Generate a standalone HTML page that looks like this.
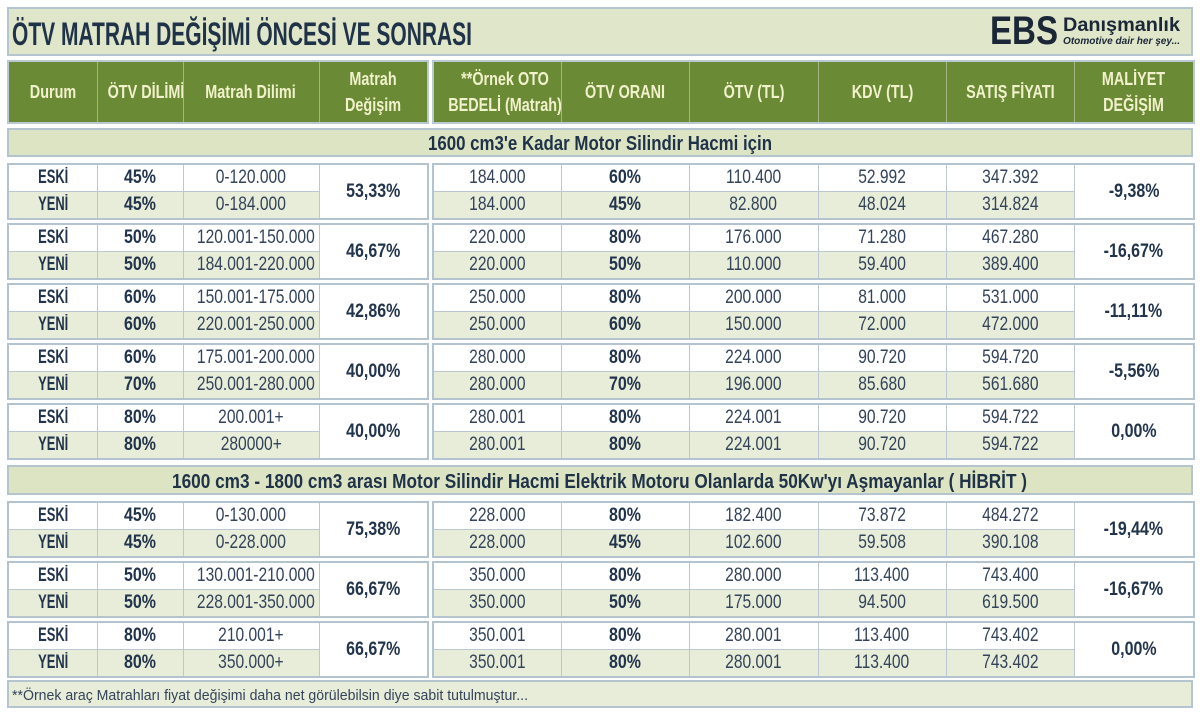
<!DOCTYPE html>
<html><head><meta charset="utf-8">
<style>
html,body{margin:0;padding:0}
body{width:1200px;height:716px;background:#fff;position:relative;overflow:hidden;font-family:"Liberation Sans",sans-serif;color:#24364e}
.bar{position:absolute;box-sizing:border-box;border:2px solid #b5c5d0}
svg{position:absolute;left:0;top:0}
table{position:absolute;border-collapse:collapse;table-layout:fixed;border:2px solid #b3c3cf}
td{border:1px solid #bcc8d1;padding:0;text-align:center;vertical-align:middle;font-size:19px;white-space:nowrap;overflow:hidden;background:#fff;line-height:20px}
tr.y td{background:#e8edd9}
tr.y td.m,td.m{background:#fff}
b,i{display:inline-block;font-style:normal}
b{font-weight:bold;transform:scaleX(.84);color:#22344c}
b.k{transform:scaleX(.68)}
i{transform:scaleX(.82);color:#33435a}
table.hd{border:2px solid #b9c8d2}
table.hd td{background:#6b8a35;border:1px solid #a3b684;font-size:18px;line-height:26px}
table.hd b{color:#f1f1cc;transform:scaleX(.8)}
</style></head><body>

<div class="bar" style="left:7px;top:7px;width:1186px;height:49px;background:#dfe6c9"></div>
<div class="bar" style="left:7px;top:128px;width:1186px;height:29px;background:#dce4c4"></div>
<div class="bar" style="left:7px;top:465px;width:1186px;height:30px;background:#dce4c4"></div>
<div class="bar" style="left:7px;top:680px;width:1186px;height:28px;background:#e8edda"></div>

<table class="hd" style="left:7px;top:60px;width:420px;height:64px">
<colgroup><col style="width:89px"><col style="width:86px"><col style="width:136px"><col style="width:109px"></colgroup>
<tr><td><b>Durum</b></td><td><b>ÖTV DİLİMİ</b></td><td><b>Matrah Dilimi</b></td><td><b>Matrah<br>Değişim</b></td></tr></table>
<table class="hd" style="left:432px;top:60px;width:761px;height:64px">
<colgroup><col style="width:128px"><col style="width:128px"><col style="width:129px"><col style="width:128px"><col style="width:128px"><col style="width:120px"></colgroup>
<tr><td><b>**Örnek OTO<br>BEDELİ (Matrah)</b></td><td><b>ÖTV ORANI</b></td><td><b>ÖTV (TL)</b></td><td><b>KDV (TL)</b></td><td><b>SATIŞ FİYATI</b></td><td><b>MALİYET<br>DEĞİŞİM</b></td></tr></table>

<!-- Group 1 -->
<table style="left:7px;top:163px;width:420px;height:57px">
<colgroup><col style="width:89px"><col style="width:86px"><col style="width:136px"><col style="width:109px"></colgroup>
<tr><td><b class="k">ESKİ</b></td><td><b>45%</b></td><td><i>0-120.000</i></td><td class="m" rowspan="2"><b>53,33%</b></td></tr>
<tr class="y"><td><b class="k">YENİ</b></td><td><b>45%</b></td><td><i>0-184.000</i></td></tr></table>
<table style="left:432px;top:163px;width:761px;height:57px">
<colgroup><col style="width:128px"><col style="width:128px"><col style="width:129px"><col style="width:128px"><col style="width:128px"><col style="width:120px"></colgroup>
<tr><td><i>184.000</i></td><td><b>60%</b></td><td><i>110.400</i></td><td><i>52.992</i></td><td><i>347.392</i></td><td class="m" rowspan="2"><b>-9,38%</b></td></tr>
<tr class="y"><td><i>184.000</i></td><td><b>45%</b></td><td><i>82.800</i></td><td><i>48.024</i></td><td><i>314.824</i></td></tr></table>

<!-- Group 2 -->
<table style="left:7px;top:223px;width:420px;height:57px">
<colgroup><col style="width:89px"><col style="width:86px"><col style="width:136px"><col style="width:109px"></colgroup>
<tr><td><b class="k">ESKİ</b></td><td><b>50%</b></td><td><i>120.001-150.000</i></td><td class="m" rowspan="2"><b>46,67%</b></td></tr>
<tr class="y"><td><b class="k">YENİ</b></td><td><b>50%</b></td><td><i>184.001-220.000</i></td></tr></table>
<table style="left:432px;top:223px;width:761px;height:57px">
<colgroup><col style="width:128px"><col style="width:128px"><col style="width:129px"><col style="width:128px"><col style="width:128px"><col style="width:120px"></colgroup>
<tr><td><i>220.000</i></td><td><b>80%</b></td><td><i>176.000</i></td><td><i>71.280</i></td><td><i>467.280</i></td><td class="m" rowspan="2"><b>-16,67%</b></td></tr>
<tr class="y"><td><i>220.000</i></td><td><b>50%</b></td><td><i>110.000</i></td><td><i>59.400</i></td><td><i>389.400</i></td></tr></table>

<!-- Group 3 -->
<table style="left:7px;top:283px;width:420px;height:57px">
<colgroup><col style="width:89px"><col style="width:86px"><col style="width:136px"><col style="width:109px"></colgroup>
<tr><td><b class="k">ESKİ</b></td><td><b>60%</b></td><td><i>150.001-175.000</i></td><td class="m" rowspan="2"><b>42,86%</b></td></tr>
<tr class="y"><td><b class="k">YENİ</b></td><td><b>60%</b></td><td><i>220.001-250.000</i></td></tr></table>
<table style="left:432px;top:283px;width:761px;height:57px">
<colgroup><col style="width:128px"><col style="width:128px"><col style="width:129px"><col style="width:128px"><col style="width:128px"><col style="width:120px"></colgroup>
<tr><td><i>250.000</i></td><td><b>80%</b></td><td><i>200.000</i></td><td><i>81.000</i></td><td><i>531.000</i></td><td class="m" rowspan="2"><b>-11,11%</b></td></tr>
<tr class="y"><td><i>250.000</i></td><td><b>60%</b></td><td><i>150.000</i></td><td><i>72.000</i></td><td><i>472.000</i></td></tr></table>

<!-- Group 4 -->
<table style="left:7px;top:343px;width:420px;height:57px">
<colgroup><col style="width:89px"><col style="width:86px"><col style="width:136px"><col style="width:109px"></colgroup>
<tr><td><b class="k">ESKİ</b></td><td><b>60%</b></td><td><i>175.001-200.000</i></td><td class="m" rowspan="2"><b>40,00%</b></td></tr>
<tr class="y"><td><b class="k">YENİ</b></td><td><b>70%</b></td><td><i>250.001-280.000</i></td></tr></table>
<table style="left:432px;top:343px;width:761px;height:57px">
<colgroup><col style="width:128px"><col style="width:128px"><col style="width:129px"><col style="width:128px"><col style="width:128px"><col style="width:120px"></colgroup>
<tr><td><i>280.000</i></td><td><b>80%</b></td><td><i>224.000</i></td><td><i>90.720</i></td><td><i>594.720</i></td><td class="m" rowspan="2"><b>-5,56%</b></td></tr>
<tr class="y"><td><i>280.000</i></td><td><b>70%</b></td><td><i>196.000</i></td><td><i>85.680</i></td><td><i>561.680</i></td></tr></table>

<!-- Group 5 -->
<table style="left:7px;top:403px;width:420px;height:57px">
<colgroup><col style="width:89px"><col style="width:86px"><col style="width:136px"><col style="width:109px"></colgroup>
<tr><td><b class="k">ESKİ</b></td><td><b>80%</b></td><td><i>200.001+</i></td><td class="m" rowspan="2"><b>40,00%</b></td></tr>
<tr class="y"><td><b class="k">YENİ</b></td><td><b>80%</b></td><td><i>280000+</i></td></tr></table>
<table style="left:432px;top:403px;width:761px;height:57px">
<colgroup><col style="width:128px"><col style="width:128px"><col style="width:129px"><col style="width:128px"><col style="width:128px"><col style="width:120px"></colgroup>
<tr><td><i>280.001</i></td><td><b>80%</b></td><td><i>224.001</i></td><td><i>90.720</i></td><td><i>594.722</i></td><td class="m" rowspan="2"><b>0,00%</b></td></tr>
<tr class="y"><td><i>280.001</i></td><td><b>80%</b></td><td><i>224.001</i></td><td><i>90.720</i></td><td><i>594.722</i></td></tr></table>

<!-- Group 6 -->
<table style="left:7px;top:501px;width:420px;height:57px">
<colgroup><col style="width:89px"><col style="width:86px"><col style="width:136px"><col style="width:109px"></colgroup>
<tr><td><b class="k">ESKİ</b></td><td><b>45%</b></td><td><i>0-130.000</i></td><td class="m" rowspan="2"><b>75,38%</b></td></tr>
<tr class="y"><td><b class="k">YENİ</b></td><td><b>45%</b></td><td><i>0-228.000</i></td></tr></table>
<table style="left:432px;top:501px;width:761px;height:57px">
<colgroup><col style="width:128px"><col style="width:128px"><col style="width:129px"><col style="width:128px"><col style="width:128px"><col style="width:120px"></colgroup>
<tr><td><i>228.000</i></td><td><b>80%</b></td><td><i>182.400</i></td><td><i>73.872</i></td><td><i>484.272</i></td><td class="m" rowspan="2"><b>-19,44%</b></td></tr>
<tr class="y"><td><i>228.000</i></td><td><b>45%</b></td><td><i>102.600</i></td><td><i>59.508</i></td><td><i>390.108</i></td></tr></table>

<!-- Group 7 -->
<table style="left:7px;top:561px;width:420px;height:57px">
<colgroup><col style="width:89px"><col style="width:86px"><col style="width:136px"><col style="width:109px"></colgroup>
<tr><td><b class="k">ESKİ</b></td><td><b>50%</b></td><td><i>130.001-210.000</i></td><td class="m" rowspan="2"><b>66,67%</b></td></tr>
<tr class="y"><td><b class="k">YENİ</b></td><td><b>50%</b></td><td><i>228.001-350.000</i></td></tr></table>
<table style="left:432px;top:561px;width:761px;height:57px">
<colgroup><col style="width:128px"><col style="width:128px"><col style="width:129px"><col style="width:128px"><col style="width:128px"><col style="width:120px"></colgroup>
<tr><td><i>350.000</i></td><td><b>80%</b></td><td><i>280.000</i></td><td><i>113.400</i></td><td><i>743.400</i></td><td class="m" rowspan="2"><b>-16,67%</b></td></tr>
<tr class="y"><td><i>350.000</i></td><td><b>50%</b></td><td><i>175.000</i></td><td><i>94.500</i></td><td><i>619.500</i></td></tr></table>

<!-- Group 8 -->
<table style="left:7px;top:621px;width:420px;height:57px">
<colgroup><col style="width:89px"><col style="width:86px"><col style="width:136px"><col style="width:109px"></colgroup>
<tr><td><b class="k">ESKİ</b></td><td><b>80%</b></td><td><i>210.001+</i></td><td class="m" rowspan="2"><b>66,67%</b></td></tr>
<tr class="y"><td><b class="k">YENİ</b></td><td><b>80%</b></td><td><i>350.000+</i></td></tr></table>
<table style="left:432px;top:621px;width:761px;height:57px">
<colgroup><col style="width:128px"><col style="width:128px"><col style="width:129px"><col style="width:128px"><col style="width:128px"><col style="width:120px"></colgroup>
<tr><td><i>350.001</i></td><td><b>80%</b></td><td><i>280.001</i></td><td><i>113.400</i></td><td><i>743.402</i></td><td class="m" rowspan="2"><b>0,00%</b></td></tr>
<tr class="y"><td><i>350.001</i></td><td><b>80%</b></td><td><i>280.001</i></td><td><i>113.400</i></td><td><i>743.402</i></td></tr></table>

<svg width="1200" height="716" viewBox="0 0 1200 716" style="pointer-events:none">
<g font-family="Liberation Sans, sans-serif" fill="#1f3248" font-weight="bold">
<text x="12" y="45" font-size="32" textLength="460" lengthAdjust="spacingAndGlyphs">ÖTV MATRAH DEĞİŞİMİ ÖNCESİ VE SONRASI</text>
<text x="428" y="150" font-size="20" textLength="344" lengthAdjust="spacingAndGlyphs">1600 cm3'e Kadar Motor Silindir Hacmi için</text>
<text x="172" y="488" font-size="20" textLength="855" lengthAdjust="spacingAndGlyphs">1600 cm3 - 1800 cm3 arası Motor Silindir Hacmi Elektrik Motoru Olanlarda 50Kw'yı Aşmayanlar ( HİBRİT )</text>
<text x="990" y="44" font-size="40" font-weight="900" fill="#1b2737" textLength="68" lengthAdjust="spacingAndGlyphs">EBS</text>
<text x="1063" y="31" font-size="19" fill="#1b2737" textLength="117" lengthAdjust="spacingAndGlyphs">Danışmanlık</text>
<text x="1063" y="44" font-size="10.5" font-style="italic" fill="#1b2737" textLength="117" lengthAdjust="spacingAndGlyphs">Otomotive dair her şey...</text>
</g>
<text x="12" y="700" font-family="Liberation Sans, sans-serif" font-size="15" fill="#33435a" textLength="516" lengthAdjust="spacingAndGlyphs">**Örnek araç Matrahları fiyat değişimi daha net görülebilsin diye sabit tutulmuştur...</text>
</svg>
</body></html>
